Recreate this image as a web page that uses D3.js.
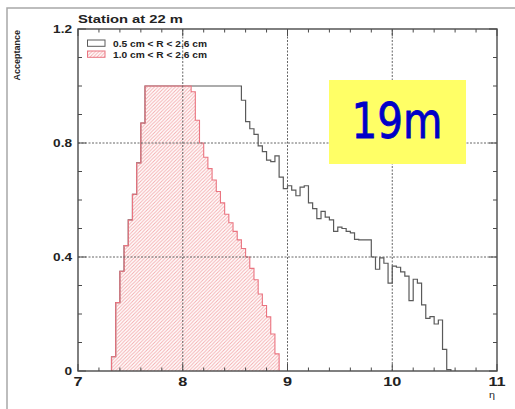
<!DOCTYPE html>
<html>
<head>
<meta charset="utf-8">
<script src="https://cdn.jsdelivr.net/npm/d3@7"></script>
<style>
  body { margin: 0; background: #fff; }
  svg { display: block; font-family: "Liberation Sans", Arial, sans-serif; }
</style>
</head>
<body>
<div id="chart"></div>
<script>
// histogram binning (100 bins from 7 to 11), first filled bin starts at 7.32
var binStart = 7.32;
var binWidth = 0.04;

// 0.5 cm < R < 2.6 cm
var wideValues = [
    0.05, 0.24, 0.35, 0.44, 0.53, 0.62, 0.73, 0.87,
    1, 1, 1, 1, 1, 1, 1, 1, 1, 1, 1,
    1, 1, 1, 1, 1, 1, 1, 1, 1, 1, 1, 1,
    0.95, 0.875, 0.85, 0.83, 0.79, 0.77, 0.74, 0.735, 0.755, 0.68,
    0.64, 0.65, 0.635, 0.615, 0.645, 0.65, 0.59, 0.57, 0.535, 0.56,
    0.54, 0.53, 0.49, 0.505, 0.50, 0.49, 0.485, 0.462, 0.46, 0.46,
    0.46, 0.40, 0.357, 0.397, 0.378, 0.308, 0.368, 0.364, 0.348, 0.333,
    0.247, 0.322, 0.308, 0.232, 0.185, 0.191, 0.165, 0.179, 0.076, 0.005
];

// 1.0 cm < R < 2.6 cm
var narrowValues = [
    0.05, 0.24, 0.35, 0.44, 0.53, 0.62, 0.73, 0.87,
    1, 1, 1, 1, 1, 1, 1, 1, 1, 1, 1,
    0.98, 0.88, 0.80, 0.75, 0.71, 0.67, 0.63, 0.59, 0.55, 0.52,
    0.49, 0.46, 0.43, 0.40, 0.36, 0.32, 0.27, 0.23, 0.19, 0.13, 0.06
];

var xTicks = [7, 8, 9, 10, 11];
var yTicks = [0, 0.4, 0.8, 1.2];
var legendLabels = ["0.5 cm < R < 2.6 cm", "1.0 cm < R < 2.6 cm"];

var W = 515, H = 409;
var margin = { left: 78, right: 18, top: 29, bottom: 38 };

var svg = d3.select("#chart").append("svg")
    .attr("width", W)
    .attr("height", H);

var defs = svg.append("defs");
defs.append("pattern")
    .attr("id", "hatch")
    .attr("patternUnits", "userSpaceOnUse")
    .attr("width", 3.5)
    .attr("height", 3.5)
  .append("path")
    .attr("d", "M-1,1 l2,-2 M0,3.5 l3.5,-3.5 M2.5,4.5 l2,-2")
    .attr("stroke", "#f4aeb0")
    .attr("stroke-width", 1);

var x = d3.scaleLinear().domain([7, 11]).range([margin.left, W - margin.right]);
var y = d3.scaleLinear().domain([0, 1.2]).range([H - margin.bottom, margin.top]);

// outer pad frame
svg.append("path")
    .attr("d", "M7," + H + " V8 H" + W)
    .attr("fill", "none")
    .attr("stroke", "#a8a8a8")
    .attr("stroke-width", 1.5);

function histPoints(vals) {
    var pts = [{ e: binStart, v: 0 }];
    vals.forEach(function(v, i) {
        pts.push({ e: binStart + i * binWidth, v: v });
    });
    var end = binStart + vals.length * binWidth;
    pts.push({ e: end, v: vals[vals.length - 1] });
    pts.push({ e: end, v: 0 });
    return pts;
}

var stepLine = d3.line()
    .x(function(d) { return x(d.e); })
    .y(function(d) { return y(d.v); })
    .curve(d3.curveStepAfter);

svg.append("path")
    .attr("d", stepLine(histPoints(wideValues)))
    .attr("fill", "none")
    .attr("stroke", "#5a5a5a")
    .attr("stroke-width", 1.2);

svg.append("path")
    .attr("d", stepLine(histPoints(narrowValues)))
    .attr("fill", "url(#hatch)")
    .attr("stroke", "#ea7480")
    .attr("stroke-width", 1.1);

// dashed grid
var grid = svg.append("g")
    .attr("stroke", "#555")
    .attr("stroke-width", 0.9)
    .attr("stroke-dasharray", "2,1.5");
grid.selectAll(".gx")
    .data(xTicks.slice(1, -1))
    .enter().append("line")
    .attr("x1", function(d) { return x(d); })
    .attr("x2", function(d) { return x(d); })
    .attr("y1", y(0)).attr("y2", y(1.2));
grid.selectAll(".gy")
    .data(yTicks.slice(1, -1))
    .enter().append("line")
    .attr("y1", function(d) { return y(d); })
    .attr("y2", function(d) { return y(d); })
    .attr("x1", x(7)).attr("x2", x(11));

// frame
svg.append("rect")
    .attr("x", x(7)).attr("y", y(1.2))
    .attr("width", x(11) - x(7)).attr("height", y(0) - y(1.2))
    .attr("fill", "none")
    .attr("stroke", "#4a4a4a")
    .attr("stroke-width", 1.4);

// inward ticks on all four sides
var ticks = svg.append("g").attr("stroke", "#4a4a4a").attr("stroke-width", 1);
var xMinor = d3.range(7, 11.001, 0.2);
var yMinor = d3.range(0, 1.2001, 0.1);
xMinor.forEach(function(t) {
    var major = Math.abs(t - Math.round(t)) < 1e-6;
    var len = major ? 7 : 3.5;
    ticks.append("line").attr("x1", x(t)).attr("x2", x(t)).attr("y1", y(0)).attr("y2", y(0) - len);
    ticks.append("line").attr("x1", x(t)).attr("x2", x(t)).attr("y1", y(1.2)).attr("y2", y(1.2) + len);
});
yMinor.forEach(function(t) {
    var major = Math.abs(t / 0.4 - Math.round(t / 0.4)) < 1e-6;
    var len = major ? 8 : 4;
    ticks.append("line").attr("y1", y(t)).attr("y2", y(t)).attr("x1", x(7)).attr("x2", x(7) + len);
    ticks.append("line").attr("y1", y(t)).attr("y2", y(t)).attr("x1", x(11)).attr("x2", x(11) - len);
});

// tick labels, stretched horizontally like the source
svg.selectAll(".xl")
    .data(xTicks)
    .enter().append("text")
    .attr("transform", function(d) { return "translate(" + x(d) + "," + (y(0) + 15) + ") scale(1.3,1)"; })
    .attr("text-anchor", "middle")
    .attr("font-size", 12.5)
    .attr("font-weight", "bold")
    .attr("fill", "#222")
    .text(function(d) { return d; });

svg.selectAll(".yl")
    .data(yTicks)
    .enter().append("text")
    .attr("transform", function(d) { return "translate(" + (x(7) - 6) + "," + (y(d) + 4) + ") scale(1.3,1)"; })
    .attr("text-anchor", "end")
    .attr("font-size", 10.5)
    .attr("font-weight", "bold")
    .attr("fill", "#222")
    .text(function(d) { return d === 0 ? "0" : d3.format(".1f")(d); });

// axis titles
svg.append("text")
    .attr("transform", "translate(" + (x(11) - 2) + ",398) scale(1.2,1)")
    .attr("text-anchor", "end")
    .attr("font-size", 9)
    .attr("fill", "#222")
    .text("η");

svg.append("text")
    .attr("transform", "translate(20,30) rotate(-90)")
    .attr("text-anchor", "end")
    .attr("font-size", 9)
    .attr("font-weight", "bold")
    .attr("fill", "#222")
    .text("Acceptance");

svg.append("text")
    .attr("x", x(7)).attr("y", 23)
    .attr("font-size", 11.6)
    .attr("font-weight", "bold")
    .attr("fill", "#222")
    .attr("textLength", 105)
    .attr("lengthAdjust", "spacingAndGlyphs")
    .text("Station at 22 m");

// legend
var legend = svg.append("g");
legendLabels.forEach(function(lab, i) {
    var ly = 40 + i * 11;
    legend.append("rect")
        .attr("x", 87.5).attr("y", ly)
        .attr("width", 17.5).attr("height", 6.3)
        .attr("fill", i === 0 ? "#fff" : "url(#hatch)")
        .attr("stroke", i === 0 ? "#5a5a5a" : "#ea7480")
        .attr("stroke-width", 1);
    legend.append("text")
        .attr("x", 113).attr("y", ly + 7)
        .attr("font-size", 9.2)
        .attr("font-weight", "bold")
        .attr("fill", "#222")
        .attr("textLength", 94)
        .attr("lengthAdjust", "spacingAndGlyphs")
        .text(lab);
});

// slide annotation
svg.append("rect")
    .attr("x", 329).attr("y", 80)
    .attr("width", 137).attr("height", 84)
    .attr("fill", "#ffff66");
svg.append("text")
    .attr("x", 397).attr("y", 138)
    .attr("text-anchor", "middle")
    .attr("font-family", "'Comic Sans MS', 'DejaVu Sans', sans-serif")
    .attr("font-size", 50)
    .attr("fill", "#0000c8")
    .attr("stroke", "#0000c8")
    .attr("stroke-width", 0.8)
    .attr("textLength", 91)
    .attr("lengthAdjust", "spacingAndGlyphs")
    .text("19m");
</script>
</body>
</html>
